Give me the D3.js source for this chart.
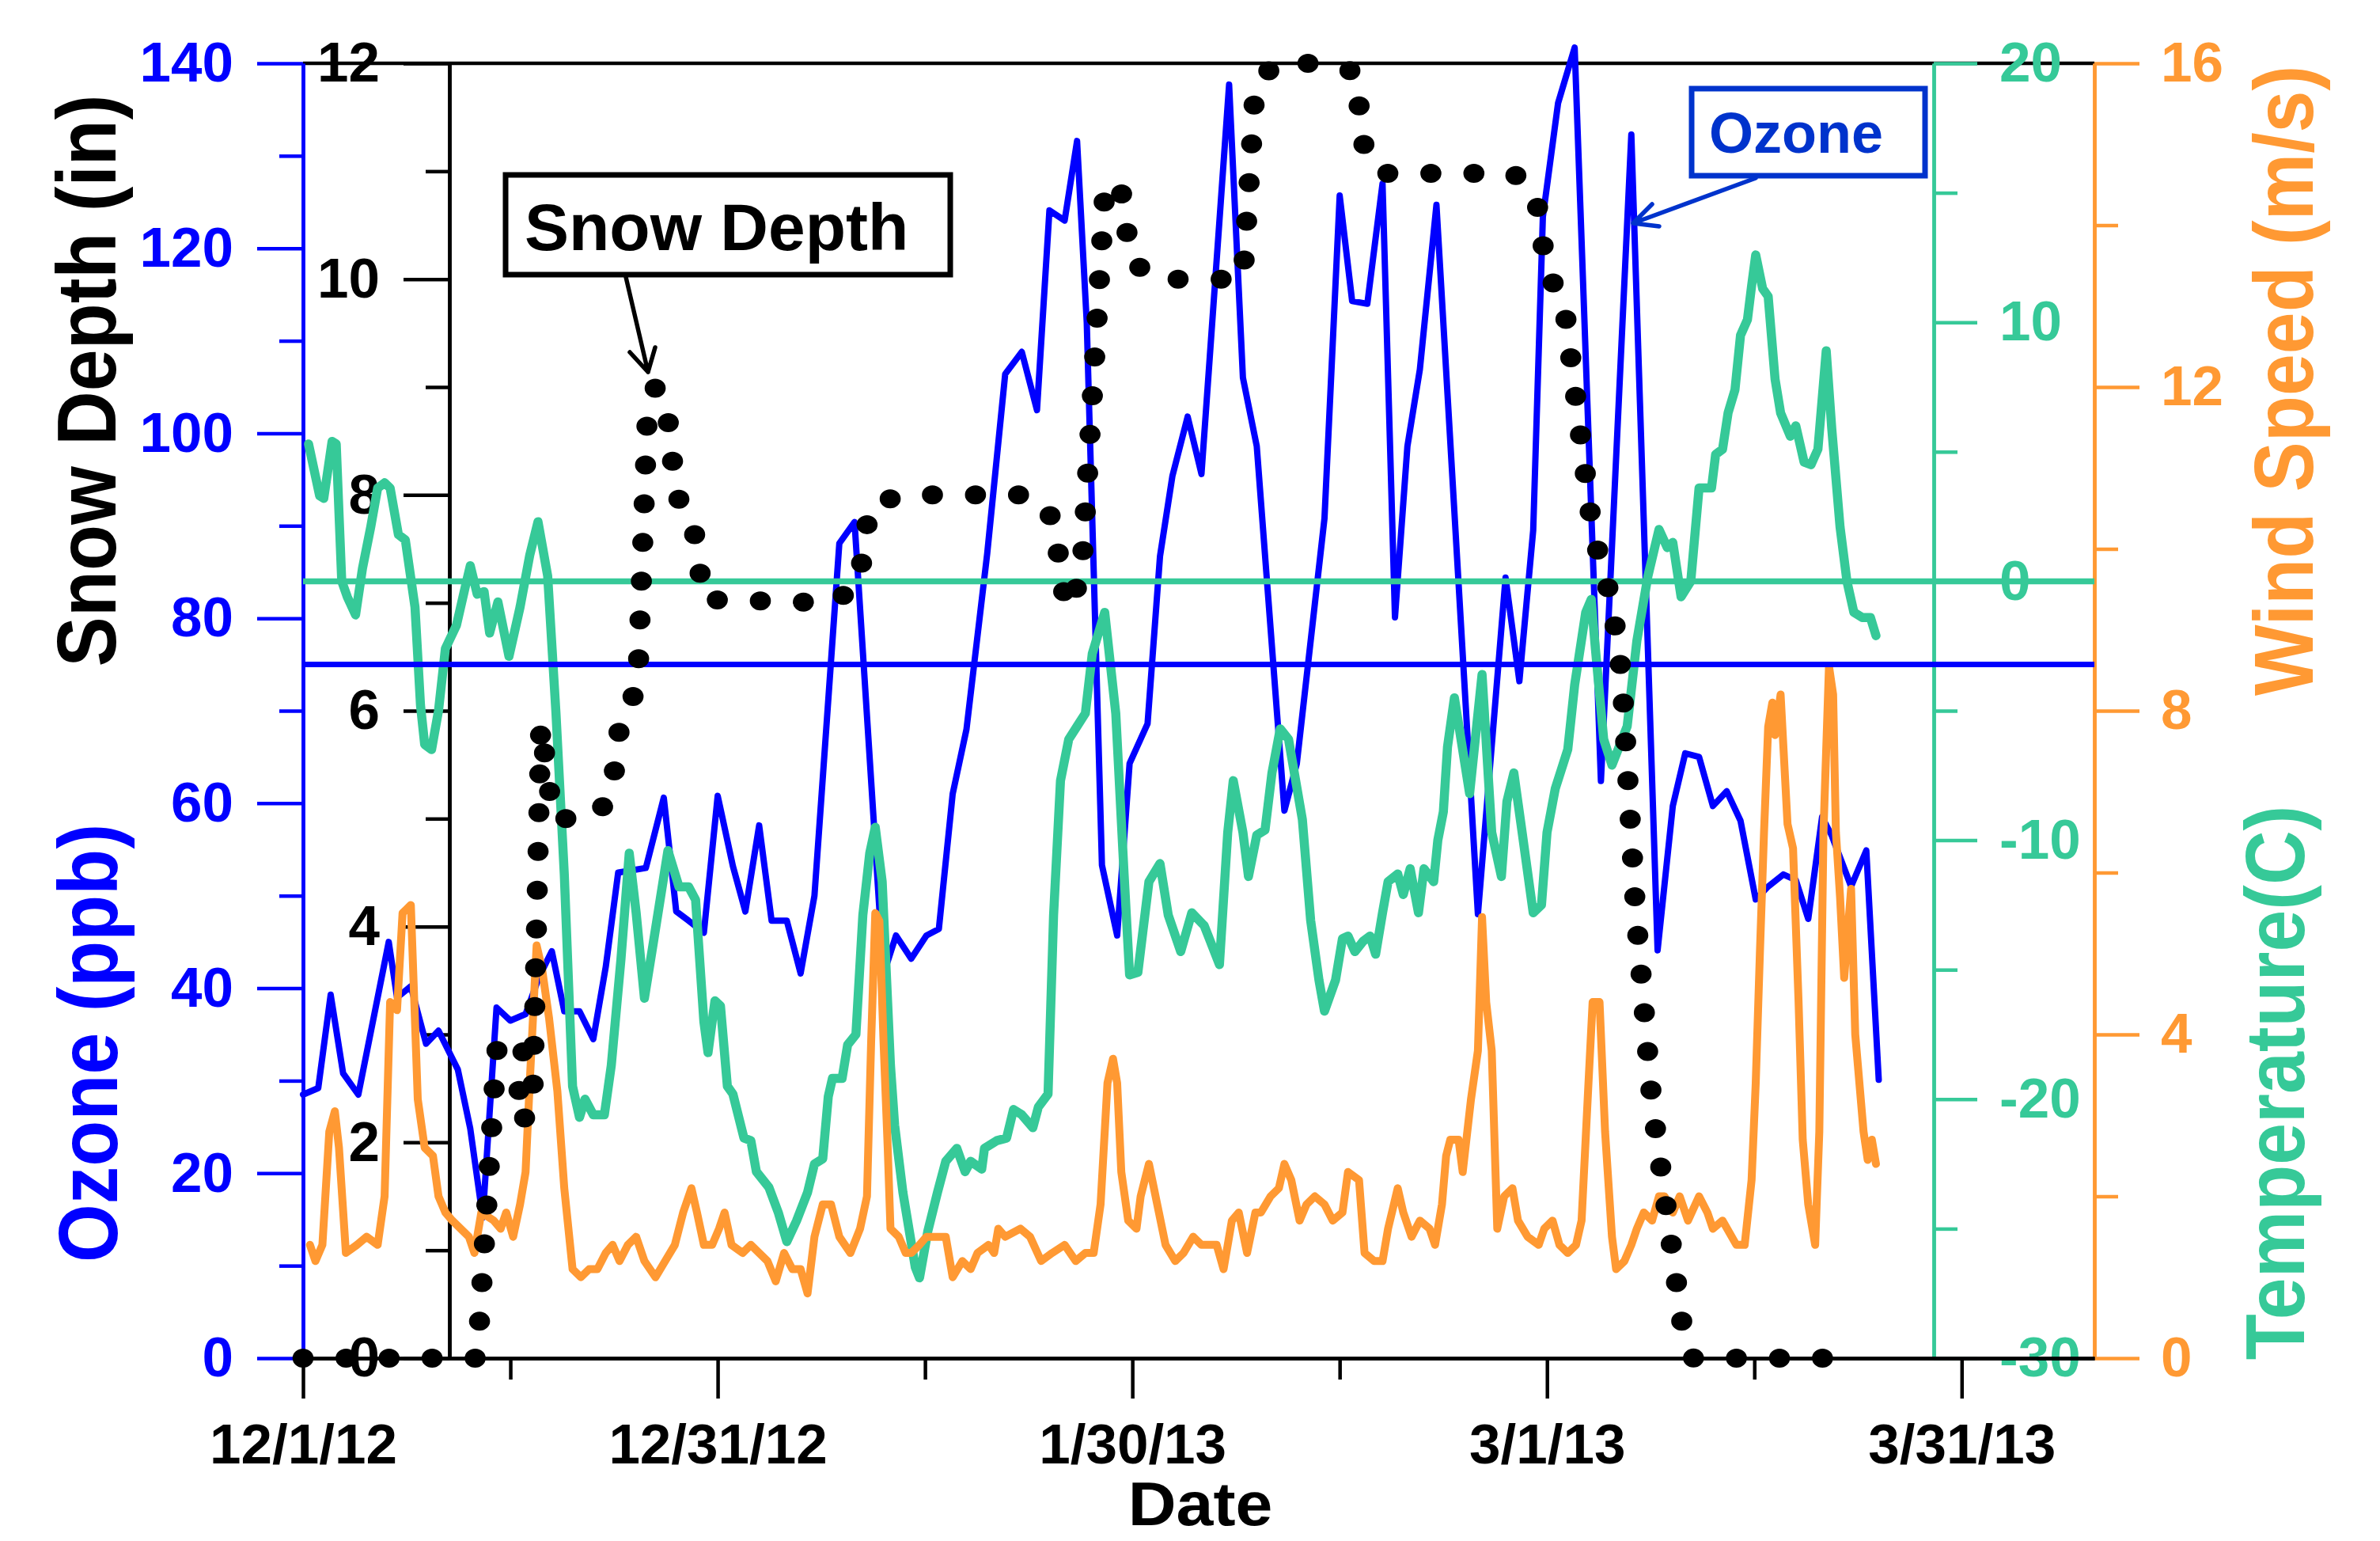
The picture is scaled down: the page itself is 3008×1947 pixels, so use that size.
<!DOCTYPE html>
<html>
<head>
<meta charset="utf-8">
<script src="https://cdnjs.cloudflare.com/ajax/libs/d3/7.8.5/d3.min.js"></script>
<style>
body { margin: 0; background: #fff; }
svg text { font-family: "Liberation Sans", Arial, sans-serif; font-weight: bold; }
</style>
</head>
<body>
<div id="chart"></div>
<script>
// all series are [days since 12/1/12, value]
var ozone = [[0,28.5],[1.1,29.2],[2.0,39.3],[2.9,30.8],[4.0,28.5],[6.2,45],[6.8,39],[7.8,40.2],[8.9,34],[9.8,35.4],
	[11.2,31.2],[12.1,24.8],[13.0,15.2],[14.0,37.9],[15.0,36.5],[16.1,37.2],[17.1,41.3],[18.0,44],[18.9,37.5],[20.0,37.5],
	[21.0,34.5],[21.9,42.3],[22.8,52.5],[24.8,53],[26.1,60.6],[27.0,48.3],[27.9,47.3],[29.0,46],[30.0,60.8],[31.1,53.2],
	[32.0,48.3],[33.0,57.6],[33.9,47.3],[35.0,47.3],[36.0,41.6],[37.0,50],[38.8,88.1],[39.9,90.4],[42.0,41.5],[42.9,45.7],
	[44.0,43.2],[45.1,45.7],[46.0,46.4],[47.0,61],[48.0,68],[49.5,87],[50.8,106.4],[52.0,108.8],[53.1,102.5],[54.0,124.1],
	[55.1,123.0],[56.0,131.6],[56.7,112],[57.8,53.3],[58.9,45.7],[59.8,64.3],[61.1,68.6],[62.0,86.7],[62.9,95.4],[64.0,101.8],
	[65.0,95.6],[67.0,137.7],[68.0,106],[69.0,98.6],[71.0,59.2],[71.9,64.3],[73.9,90.8],[75.0,125.7],[75.9,114.3],[77.0,114.0],
	[78.1,127.0],[79.0,80.1],[79.9,98.6],[80.8,106.9],[82.0,124.7],[85.0,48.0],[87.0,84.4],[88.0,73.2],[89.0,89.5],[89.7,123.4],
	[90.8,135.7],[92.0,141.7],[93.9,62.4],[96.1,132.3],[98.0,44.1],[99.1,59.7],[100.0,65.4],[101.0,65.0],[102.0,59.7],[103.0,61.3],
	[104.0,58.1],[105.1,49.6],[106.0,51.0],[107.1,52.3],[108.0,51.7],[108.9,47.5],[109.9,58.5],[110.6,56.5],[112.0,51.0],[113.1,54.9],
	[114.0,30.1]];

var temperature = [[0.4,5.3],[1.2,3.3],[1.5,3.2],[2.1,5.4],[2.4,5.3],[2.8,0.0],[3.2,-0.6],[3.8,-1.3],[4.3,0.5],[4.9,2.1],
	[5.4,3.6],[5.9,3.8],[6.3,3.6],[6.9,1.8],[7.4,1.6],[8.1,-1.0],[8.5,-4.8],[8.8,-6.3],[9.3,-6.5],[9.8,-5.0],
	[10.3,-2.6],[11.1,-1.7],[11.7,-0.3],[12.1,0.6],[12.6,-0.5],[13.1,-0.4],[13.5,-2.0],[14.1,-0.8],[14.9,-2.9],[15.7,-1.0],
	[16.4,1.0],[17.0,2.3],[17.7,0.2],[18.3,-5.1],[18.9,-11.3],[19.5,-19.5],[20.0,-20.7],[20.4,-20.0],[21.0,-20.6],[21.8,-20.6],
	[22.3,-18.7],[23.0,-14.6],[23.6,-10.5],[24.1,-12.8],[24.7,-16.1],[25.3,-14.1],[26.4,-10.4],[27.2,-11.8],[27.9,-11.8],[28.4,-12.3],
	[29.0,-17.0],[29.3,-18.2],[29.8,-16.2],[30.2,-16.4],[30.7,-19.5],[31.1,-19.8],[31.9,-21.5],[32.4,-21.6],[32.8,-22.8],[33.7,-23.4],
	[34.4,-24.4],[35.0,-25.5],[35.7,-24.7],[36.5,-23.6],[37.0,-22.5],[37.6,-22.3],[38.0,-19.9],[38.3,-19.2],[39.0,-19.2],[39.4,-17.9],
	[40.0,-17.5],[40.5,-12.9],[41.0,-10.5],[41.4,-9.5],[41.9,-11.6],[42.5,-18.7],[42.8,-21.0],[43.4,-23.6],[44.3,-26.5],[44.6,-26.9],
	[45.2,-25.1],[45.9,-23.6],[46.5,-22.4],[47.3,-21.9],[47.9,-22.8],[48.3,-22.4],[49.1,-22.7],[49.3,-21.9],[50.2,-21.6],[50.9,-21.5],
	[51.4,-20.4],[52.0,-20.6],[52.8,-21.1],[53.2,-20.3],[53.9,-19.8],[54.3,-12.9],[54.8,-7.7],[55.4,-6.1],[56.0,-5.6],[56.6,-5.1],
	[57.1,-2.8],[58.0,-1.2],[58.8,-5.1],[59.4,-11.3],[59.8,-15.2],[60.4,-15.1],[61.2,-11.6],[62.0,-10.9],[62.6,-12.9],[63.5,-14.3],
	[64.3,-12.8],[65.2,-13.3],[66.3,-14.8],[66.9,-9.7],[67.3,-7.7],[68.0,-9.7],[68.4,-11.4],[69.0,-9.8],[69.6,-9.6],[70.1,-7.4],
	[70.7,-5.7],[71.3,-6.1],[72.3,-9.2],[72.9,-13.1],[73.5,-15.4],[73.9,-16.6],[74.7,-15.4],[75.2,-13.8],[75.6,-13.7],[76.1,-14.3],
	[76.7,-13.9],[77.2,-13.7],[77.6,-14.4],[78.1,-12.8],[78.5,-11.6],[79.2,-11.3],[79.6,-12.1],[80.1,-11.1],[80.7,-12.8],[81.1,-11.1],
	[81.8,-11.6],[82.1,-10.0],[82.5,-8.9],[82.8,-6.4],[83.3,-4.5],[84.4,-8.2],[85.3,-3.6],[86.0,-9.7],[86.7,-11.4],[87.1,-8.5],
	[87.6,-7.4],[88.2,-9.7],[89.0,-12.8],[89.6,-12.5],[90.0,-9.7],[90.6,-8.0],[91.5,-6.5],[92.0,-4.0],[92.8,-1.2],[93.2,-0.7],
	[93.5,-2.6],[94.1,-6.1],[94.7,-7.1],[95.8,-5.6],[96.5,-2.3],[97.3,0.2],[98.1,2.0],[98.7,1.3],[99.1,1.5],[99.7,-0.6],
	[100.4,0.0],[101.0,3.6],[101.9,3.6],[102.2,4.9],[102.7,5.1],[103.1,6.5],[103.6,7.4],[104.0,9.5],[104.5,10.1],[104.8,11.4],
	[105.1,12.6],[105.6,11.3],[106.0,11.0],[106.5,7.8],[106.9,6.5],[107.6,5.6],[108.0,6.0],[108.6,4.6],[109.1,4.5],[109.6,5.1],
	[110.2,8.9],[110.6,5.9],[111.2,2.1],[111.7,0.0],[112.2,-1.2],[112.8,-1.4],[113.4,-1.4],[113.8,-2.1]];

var windSpeed = [[0.5,1.4],[0.9,1.2],[1.4,1.4],[1.9,2.8],[2.3,3.05],[2.6,2.6],[3.1,1.3],[3.9,1.4],[4.6,1.5],[5.4,1.4],
	[5.9,2.0],[6.3,4.4],[6.8,4.3],[7.2,5.5],[7.8,5.6],[8.3,3.2],[8.8,2.6],[9.4,2.5],[9.8,2.0],[10.3,1.8],
	[10.8,1.7],[11.4,1.6],[12.0,1.5],[12.4,1.3],[12.9,1.8],[13.8,1.7],[14.3,1.6],[14.7,1.8],[15.2,1.5],[15.7,1.9],
	[16.1,2.3],[16.4,3.4],[16.9,5.1],[17.3,4.8],[17.8,4.2],[18.4,3.3],[18.9,2.1],[19.5,1.1],[20.1,1.0],[20.7,1.1],
	[21.3,1.1],[21.9,1.3],[22.4,1.4],[22.9,1.2],[23.5,1.4],[24.1,1.5],[24.7,1.2],[25.5,1.0],[26.2,1.2],[26.9,1.4],
	[27.5,1.8],[28.1,2.1],[28.5,1.8],[29.0,1.4],[29.6,1.4],[30.1,1.6],[30.5,1.8],[31.0,1.4],[31.8,1.3],[32.4,1.4],
	[33.0,1.3],[33.6,1.2],[34.2,0.95],[34.8,1.3],[35.4,1.1],[36.0,1.1],[36.5,0.8],[37.0,1.5],[37.6,1.9],[38.2,1.9],
	[38.8,1.5],[39.6,1.3],[40.3,1.6],[40.8,2.0],[41.1,3.9],[41.4,5.5],[41.7,5.4],[42.0,3.9],[42.3,2.6],[42.5,1.6],
	[43.1,1.5],[43.6,1.3],[44.0,1.3],[44.6,1.4],[45.1,1.5],[45.9,1.5],[46.5,1.5],[47.0,1.0],[47.7,1.2],[48.3,1.1],
	[48.8,1.3],[49.6,1.4],[50.0,1.3],[50.3,1.6],[50.8,1.5],[51.9,1.6],[52.6,1.5],[53.4,1.2],[54.2,1.3],[55.1,1.4],
	[55.9,1.2],[56.6,1.3],[57.2,1.3],[57.7,1.9],[58.2,3.4],[58.6,3.7],[58.9,3.4],[59.2,2.3],[59.7,1.7],[60.3,1.6],
	[60.6,2.0],[61.2,2.4],[61.8,1.9],[62.4,1.4],[63.1,1.2],[63.7,1.3],[64.4,1.5],[65.0,1.4],[66.1,1.4],[66.6,1.1],
	[67.2,1.7],[67.7,1.8],[68.3,1.3],[68.9,1.8],[69.3,1.8],[70.0,2.0],[70.6,2.1],[71.0,2.4],[71.5,2.2],[72.1,1.7],
	[72.6,1.9],[73.2,2.0],[73.9,1.9],[74.5,1.7],[75.2,1.8],[75.6,2.3],[76.4,2.2],[76.8,1.3],[77.5,1.2],[78.1,1.2],
	[78.5,1.6],[79.2,2.1],[79.6,1.8],[80.2,1.5],[80.8,1.7],[81.5,1.6],[81.9,1.4],[82.4,1.9],[82.7,2.5],[83.0,2.7],
	[83.6,2.7],[83.9,2.3],[84.5,3.2],[85.0,3.8],[85.3,5.45],[85.6,4.4],[86.0,3.8],[86.4,1.6],[86.9,2.0],[87.5,2.1],
	[87.9,1.7],[88.6,1.5],[89.4,1.4],[89.8,1.6],[90.4,1.7],[90.9,1.4],[91.5,1.3],[92.1,1.4],[92.5,1.7],[93.0,3.4],
	[93.3,4.4],[93.8,4.4],[94.2,2.8],[94.7,1.5],[95.0,1.1],[95.6,1.2],[96.1,1.4],[96.5,1.6],[97.0,1.8],[97.6,1.7],
	[98.1,2.0],[98.5,2.0],[99.1,1.8],[99.6,2.0],[100.2,1.7],[101.0,2.0],[101.6,1.8],[102.0,1.6],[102.7,1.7],[103.7,1.4],
	[104.3,1.4],[104.8,2.2],[105.1,3.4],[105.4,5.0],[105.7,6.5],[106.0,7.8],[106.3,8.1],[106.5,7.7],[106.9,8.2],[107.4,6.6],
	[107.8,6.3],[108.2,4.4],[108.5,2.7],[108.9,1.9],[109.4,1.4],[109.7,2.8],[110.0,6.5],[110.4,8.55],[110.7,8.2],[110.9,6.5],
	[111.2,5.7],[111.5,4.7],[112.0,5.8],[112.3,4.0],[112.9,2.8],[113.2,2.45],[113.5,2.7],[113.8,2.4]];

var snowDepth = [[0,0],[12.6,0],[14.0,2.85],[16.0,2.95],[15.4,2.2],[16.6,2.25],[17.2,5.87],[18.1,5.0],[20.9,5.0],[22.3,5.2],
	[23.0,5.95],[24.2,6.2],[24.9,8.71],[25.5,9.0],[26.4,8.7],[27.0,8.0],[28.2,7.75],[29.0,7.03],[38.4,7.0],[40.2,7.18],
	[41.0,7.9],[43.3,8.0],[52.8,8.0],[54.3,7.77],[55.2,6.95],[56.3,7.22],[58.0,10.8],[59.1,10.9],[59.9,10.17],[61.7,10.0],
	[68.0,10.0],[68.9,11.8],[70.4,12.0],[73.6,12.0],[76.1,11.92],[76.8,11.2],[78.1,10.98],[87.6,10.98],[89.2,10.77],[90.0,10.06],
	[91.2,9.8],[93.3,7.66],[94.7,7.0],[95.4,6.34],[96.4,4.17],[97.6,2.36],[99.9,0.2],[100.6,0],[111,0]];

var ozoneLimit = 75, freezing = 0;

var dateTicks = [0, 30, 60, 90, 120],
	dateLabels = ["12/1/12", "12/31/12", "1/30/13", "3/1/13", "3/31/13"],
	dateMinor = [15, 45, 75, 105];
var ozoneTicks = [0, 20, 40, 60, 80, 100, 120, 140],
	ozoneMinor = [10, 30, 50, 70, 90, 110, 130];
var snowTicks = [0, 2, 4, 6, 8, 10, 12],
	snowMinor = [1, 3, 5, 7, 9, 11];
var tempTicks = [-30, -20, -10, 0, 10, 20],
	tempMinor = [-25, -15, -5, 5, 15];
var windTicks = [0, 4, 8, 12, 16],
	windMinor = [2, 6, 10, 14];

var width = 3008, height = 1947,
	plot = {left: 383, snowAxis: 568, tempAxis: 2444, right: 2647, top: 80, bottom: 1716};

var blue = "#0000ff", teal = "#36c998", orange = "#ff9933", boxBlue = "#0033cc";

var svg = d3.select("#chart").append("svg")
	.attr("width", width)
	.attr("height", height)
	.style("background", "#fff");

var x = d3.scaleLinear().domain([0, 129.6]).range([plot.left, plot.right]);
var yOzone = d3.scaleLinear().domain([0, 140]).range([plot.bottom, plot.top]);
var ySnow = d3.scaleLinear().domain([0, 12]).range([plot.bottom, plot.top]);
var yTemp = d3.scaleLinear().domain([-30, 20]).range([plot.bottom, plot.top]);
var yWind = d3.scaleLinear().domain([0, 16]).range([plot.bottom, plot.top]);

// one axis = a major pass with labels and a minor pass without
function addAxis(axisFn, scale, translate, major, minor, majorLen, minorLen, pad, color, fmt) {
	var g = svg.append("g").attr("transform", translate).attr("color", color);
	g.append("g")
	.call(axisFn(scale).tickValues(minor).tickSize(minorLen).tickSizeOuter(0).tickFormat(""));
	g.append("g")
	.call(axisFn(scale).tickValues(major).tickSize(majorLen).tickSizeOuter(0).tickPadding(pad)
		.tickFormat(fmt || function(d) { return String(d); }));
	g.selectAll("g").attr("font-size", 71).attr("font-family", null);
	g.selectAll("line, path").attr("stroke-width", 4.5);
	return g;
}

// top frame line
svg.append("line")
	.attr("x1", plot.left).attr("x2", plot.right)
	.attr("y1", plot.top).attr("y2", plot.top)
	.attr("stroke", "#000").attr("stroke-width", 4.5);

addAxis(d3.axisLeft, yOzone, "translate(" + plot.left + ",0)", ozoneTicks, ozoneMinor, 58, 30, 30, blue);
addAxis(d3.axisLeft, ySnow, "translate(" + plot.snowAxis + ",0)", snowTicks, snowMinor, 58, 30, 30, "#000");
addAxis(d3.axisRight, yTemp, "translate(" + plot.tempAxis + ",0)", tempTicks, tempMinor, 55, 30, 28, teal);
addAxis(d3.axisRight, yWind, "translate(" + plot.right + ",0)", windTicks, windMinor, 57, 30, 27, orange);
addAxis(d3.axisBottom, x, "translate(0," + plot.bottom + ")", dateTicks, dateMinor, 51, 27, 32, "#000",
	function(d, i) { return dateLabels[i]; });
svg.selectAll("text").attr("font-size", 71);

// series
function drawLine(data, yScale, color, w) {
	svg.append("path")
	.datum(data)
	.attr("fill", "none")
	.attr("stroke", color)
	.attr("stroke-width", w)
	.attr("stroke-linejoin", "round")
	.attr("stroke-linecap", "round")
	.attr("d", d3.line().x(d => x(d[0])).y(d => yScale(d[1])));
}

drawLine(ozone, yOzone, blue, 8);
drawLine(temperature, yTemp, teal, 11.5);
drawLine(windSpeed, yWind, orange, 10);

// reference lines: 75 ppb ozone and 0 C
svg.append("line")
	.attr("x1", plot.left).attr("x2", plot.right)
	.attr("y1", yTemp(freezing)).attr("y2", yTemp(freezing))
	.attr("stroke", teal).attr("stroke-width", 7.5);
svg.append("line")
	.attr("x1", plot.left).attr("x2", plot.right)
	.attr("y1", yOzone(ozoneLimit)).attr("y2", yOzone(ozoneLimit))
	.attr("stroke", blue).attr("stroke-width", 7);

// snow depth as big round dots; the source figure is a bit stretched sideways
var sx = 1.11;
svg.append("g")
	.attr("transform", "scale(" + sx + ",1)")
	.append("path")
	.datum(snowDepth)
	.attr("fill", "none")
	.attr("stroke", "#000")
	.attr("stroke-width", 24)
	.attr("stroke-linecap", "round")
	.attr("stroke-dasharray", "0 49")
	.attr("d", d3.line().x(d => x(d[0]) / sx).y(d => ySnow(d[1])));

// axis titles
function title(txt, tx, ty, color, rot) {
	svg.append("text")
	.attr("transform", "translate(" + tx + "," + ty + ")" + (rot ? " rotate(-90) scale(1,1.12)" : " scale(1.08,1)"))
	.attr("text-anchor", "middle")
	.attr("font-size", rot ? 95 : 78)
	.attr("fill", color)
	.text(txt);
}
title("Snow Depth (in)", 146, 481, "#000", true);
title("Ozone (ppb)", 148, 1318, blue, true);
title("Wind Speed (m/s)", 2923, 481, orange, true);
title("Temperature(C)", 2912, 1368, teal, true);
title("Date", 1517, 1927, "#000", false);

// annotation boxes
svg.append("rect")
	.attr("x", 639).attr("y", 221).attr("width", 562).attr("height", 126)
	.attr("fill", "#fff").attr("stroke", "#000").attr("stroke-width", 7);
svg.append("text")
	.attr("x", 663).attr("y", 316)
	.attr("font-size", 84)
	.attr("fill", "#000")
	.text("Snow Depth");
svg.append("path")
	.attr("d", "M791,350L819,470M796,445L819,470L828,439")
	.attr("fill", "none").attr("stroke", "#000").attr("stroke-width", 5.5)
	.attr("stroke-linecap", "round").attr("stroke-linejoin", "round");

svg.append("rect")
	.attr("x", 2138).attr("y", 112).attr("width", 295).attr("height", 110)
	.attr("fill", "#fff").attr("stroke", boxBlue).attr("stroke-width", 7);
svg.append("text")
	.attr("x", 2160).attr("y", 193)
	.attr("font-size", 72)
	.attr("fill", boxBlue)
	.text("Ozone");
svg.append("path")
	.attr("d", "M2219,225L2064,282M2088,258L2064,282L2097,286")
	.attr("fill", "none").attr("stroke", boxBlue).attr("stroke-width", 5.5)
	.attr("stroke-linecap", "round").attr("stroke-linejoin", "round");
</script>
</body>
</html>
